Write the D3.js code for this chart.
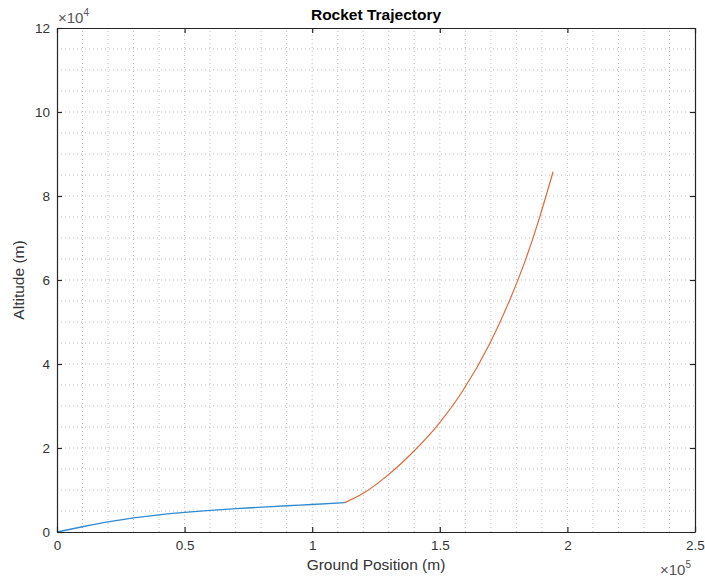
<!DOCTYPE html>
<html><head><meta charset="utf-8">
<script src="https://cdn.jsdelivr.net/npm/d3@7"></script>
<style>body{margin:0;background:#fff}svg{display:block}text{font-family:"Liberation Sans",Arial,Helvetica,sans-serif}</style>
</head><body>
<script>
// Data (x in units of 1e5 m, y in units of 1e4 m)
const xTicks = [0, 0.5, 1, 1.5, 2, 2.5];
const yTicks = [0, 2, 4, 6, 8, 10, 12];
const ascentX = [0, 0.1, 0.2, 0.3, 0.4, 0.5, 0.6, 0.7, 0.8, 0.9, 1.0, 1.128];
const ascentY = [0, 0.125, 0.24, 0.335, 0.41, 0.465, 0.515, 0.555, 0.59, 0.625, 0.655, 0.70];
const climbX = [1.128, 1.2, 1.298, 1.396, 1.487, 1.592, 1.696, 1.774, 1.84, 1.892, 1.944];
const climbY = [0.70, 0.92, 1.36, 1.91, 2.51, 3.38, 4.49, 5.52, 6.55, 7.51, 8.58];

const W = 705, H = 581;
const m = {l:57, r:10, t:28, b:49};
const svg = d3.select("body").append("svg").attr("width", W).attr("height", H);
const x = d3.scaleLinear().domain([0, 2.5]).range([m.l, W - m.r]);
const y = d3.scaleLinear().domain([0, 12]).range([H - m.b, m.t]);

const g = svg.append("g");
// grid (minor + major, dotted)
const gx = d3.range(0, 2.5001, 0.1);
const gy = d3.range(0, 12.0001, 0.5);
g.selectAll(".gv").data(gx.slice(1, -1)).enter().append("line")
  .attr("x1", d => x(d)).attr("x2", d => x(d)).attr("y1", y(0)).attr("y2", y(12))
  .attr("stroke", "#bdbdbd").attr("stroke-width", 1).attr("stroke-dasharray", "1,3");
g.selectAll(".gh").data(gy.slice(1, -1)).enter().append("line")
  .attr("y1", d => y(d)).attr("y2", d => y(d)).attr("x1", x(0)).attr("x2", x(2.5))
  .attr("stroke", "#bdbdbd").attr("stroke-width", 1).attr("stroke-dasharray", "1,3");

// lines
const line = d3.line().x(d => x(d[0])).y(d => y(d[1])).curve(d3.curveMonotoneX);
svg.append("path").datum(ascentX.map((v, i) => [v, ascentY[i]]))
  .attr("d", line).attr("fill", "none").attr("stroke", "#2f8ad0").attr("stroke-width", 1.3);
svg.append("path").datum(climbX.map((v, i) => [v, climbY[i]]))
  .attr("d", line).attr("fill", "none").attr("stroke", "#e0683a").attr("stroke-width", 1.2);

// axes
const axCol = "#333333";
const fmt = d => String(d);
const xa = svg.append("g").attr("transform", `translate(0,${y(0)})`)
  .call(d3.axisBottom(x).tickValues(xTicks).tickFormat(fmt).tickSizeInner(-5).tickSizeOuter(0).tickPadding(8));
const xt = svg.append("g").attr("transform", `translate(0,${y(12)})`)
  .call(d3.axisTop(x).tickValues(xTicks).tickFormat("").tickSizeInner(-5).tickSizeOuter(0));
const ya = svg.append("g").attr("transform", `translate(${x(0)},0)`)
  .call(d3.axisLeft(y).tickValues(yTicks).tickFormat(fmt).tickSizeInner(-5).tickSizeOuter(0).tickPadding(7));
const yr = svg.append("g").attr("transform", `translate(${x(2.5)},0)`)
  .call(d3.axisRight(y).tickValues(yTicks).tickFormat("").tickSizeInner(-5).tickSizeOuter(0));
[xa, xt, ya, yr].forEach(a => {
  a.select(".domain").attr("stroke", "#262626").attr("stroke-width", 1.2);
  a.selectAll(".tick line").attr("stroke", "#262626").attr("stroke-width", 1.2);
  a.selectAll(".tick text").attr("fill", axCol).style("font-size", "13.5px");
});

// title & labels
svg.append("text").attr("x", (x(0) + x(2.5)) / 2).attr("y", 20).attr("text-anchor", "middle")
  .style("font-size", "15.5px").style("font-weight", "bold").attr("fill", "#000").text("Rocket Trajectory");
svg.append("text").attr("x", (x(0) + x(2.5)) / 2).attr("y", 570).attr("text-anchor", "middle")
  .style("font-size", "15.5px").attr("fill", axCol).text("Ground Position (m)");
svg.append("text").attr("transform", `translate(24,${(y(0) + y(12)) / 2}) rotate(-90)`).attr("text-anchor", "middle")
  .style("font-size", "15.5px").attr("fill", axCol).text("Altitude (m)");

// exponent labels
const e4 = svg.append("text").attr("x", 58).attr("y", 23).style("font-size", "15px").attr("fill", "#555");
e4.append("tspan").text("\u00d710");
e4.append("tspan").attr("dy", -7).style("font-size", "10px").text("4");
const e5 = svg.append("text").attr("x", 660).attr("y", 575).style("font-size", "15px").attr("fill", "#555");
e5.append("tspan").text("\u00d710");
e5.append("tspan").attr("dy", -7).style("font-size", "10px").text("5");
</script>
</body></html>
